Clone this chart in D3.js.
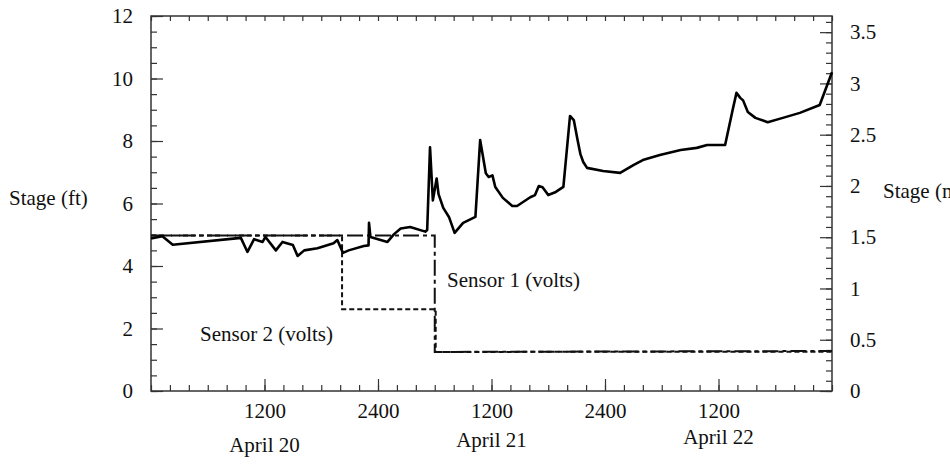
<!DOCTYPE html>
<html>
<head>
<meta charset="utf-8">
<script src="https://cdn.jsdelivr.net/npm/d3@7"></script>
<style>
  body { margin: 0; background: #fff; }
  svg { display: block; }
  text { font-family: "Liberation Serif", "Times New Roman", serif; fill: #111; }
</style>
</head>
<body>
<div id="chart"></div>
<script>
// stage record, [hours since 0000 April 20, stage in ft]
const stage = [
    [0, 4.88], [1.2, 4.95], [2.3, 4.68], [9.5, 4.9], [10.2, 4.45], [10.9, 4.86],
    [11.8, 4.77], [12.1, 4.93], [13.2, 4.5], [13.9, 4.77], [15.0, 4.67], [15.5, 4.32],
    [16.2, 4.5], [17.6, 4.57], [19.3, 4.73], [19.7, 4.83], [20.3, 4.42], [20.9, 4.5],
    [22.5, 4.64], [23.0, 4.66], [23.05, 5.38], [23.2, 4.93], [25.0, 4.77], [25.7, 5.02],
    [26.4, 5.2], [27.4, 5.25], [29.0, 5.1], [29.2, 5.15], [29.5, 7.8], [29.8, 6.1],
    [30.2, 6.8], [30.4, 6.3], [30.9, 5.86], [31.5, 5.57], [32.1, 5.06], [33.0, 5.38],
    [34.3, 5.57], [34.8, 8.03], [35.4, 6.97], [35.7, 6.85], [36.1, 6.9], [36.4, 6.53],
    [37.2, 6.18], [38.2, 5.92], [38.7, 5.92], [40.1, 6.2], [40.6, 6.27], [41.0, 6.56],
    [41.4, 6.52], [42.0, 6.27], [42.8, 6.37], [43.6, 6.53], [44.3, 8.8], [44.7, 8.67],
    [45.1, 8.03], [45.4, 7.58], [45.7, 7.33], [46.1, 7.14], [47.8, 7.04], [49.6, 6.98],
    [51.0, 7.23], [52.0, 7.39], [53.8, 7.55], [56.0, 7.71], [57.7, 7.78], [58.8, 7.87],
    [60.7, 7.87], [61.5, 9.0], [61.9, 9.54], [62.3, 9.38], [62.6, 9.3], [63.1, 8.93],
    [63.9, 8.74], [65.2, 8.6], [66.8, 8.74], [68.6, 8.9], [70.7, 9.15], [72, 10.2]
];

// sensor outputs (volts), plotted on the left scale
const sensor1 = [[0, 4.98], [30.0, 4.98], [30.0, 1.25], [72, 1.28]];
const sensor2 = [[0, 4.98], [20.2, 4.98], [20.2, 2.62], [30.1, 2.62], [30.1, 1.25], [72, 1.26]];

const hourTicks = [12, 24, 36, 48, 60];
const hourLabels = ['1200', '2400', '1200', '2400', '1200'];
const dayHours = [12, 36, 60];
const dayLabels = ['April 20', 'April 21', 'April 22'];

const width = 950, height = 466;
const margin = { top: 16, right: 118, bottom: 75, left: 151 };

const svg = d3.select('#chart')
    .append('svg')
    .attr('width', width)
    .attr('height', height);

const x = d3.scaleLinear().domain([0, 72]).range([margin.left, width - margin.right]);
const y = d3.scaleLinear().domain([0, 12]).range([height - margin.bottom, margin.top]);
const yM = d3.scaleLinear().domain([0, 12 * 0.3048]).range([height - margin.bottom, margin.top]);

const x0 = x.range()[0], x1 = x.range()[1];
const y0 = y.range()[0], y1 = y.range()[1];

function styleAxis(g) {
    g.select('.domain').remove();
    g.selectAll('line').attr('stroke', '#333').attr('stroke-width', 1.2);
    g.selectAll('text').attr('font-size', '21px').attr('fill', '#111');
}

// left axis, ft
svg.append('g')
    .attr('transform', `translate(${x0},0)`)
    .call(d3.axisLeft(y).tickValues(d3.range(0, 12.01, 0.5)).tickFormat('').tickSizeInner(-6).tickSizeOuter(0))
    .call(styleAxis);
svg.append('g')
    .attr('transform', `translate(${x0},0)`)
    .call(d3.axisLeft(y).tickValues(d3.range(0, 12.01, 2)).tickSizeInner(-12).tickSizeOuter(0).tickPadding(18))
    .call(styleAxis);

// right axis, m
svg.append('g')
    .attr('transform', `translate(${x1},0)`)
    .call(d3.axisRight(yM).tickValues(d3.range(0, 3.65, 0.1)).tickFormat('').tickSizeInner(-6).tickSizeOuter(0))
    .call(styleAxis);
svg.append('g')
    .attr('transform', `translate(${x1},0)`)
    .call(d3.axisRight(yM).tickValues(d3.range(0, 3.51, 0.5)).tickFormat(d3.format('~g')).tickSizeInner(-12).tickSizeOuter(0).tickPadding(18))
    .call(styleAxis);

// bottom axis, hours
svg.append('g')
    .attr('transform', `translate(0,${y0})`)
    .call(d3.axisBottom(x).tickValues(d3.range(0, 72.01, 2)).tickFormat('').tickSizeInner(-6).tickSizeOuter(0))
    .call(styleAxis);
svg.append('g')
    .attr('transform', `translate(0,${y0})`)
    .call(d3.axisBottom(x).tickValues(hourTicks).tickFormat((d, i) => hourLabels[i]).tickSizeInner(-12).tickSizeOuter(0).tickPadding(12))
    .call(styleAxis);

// top ticks
svg.append('g')
    .attr('transform', `translate(0,${y1})`)
    .call(d3.axisTop(x).tickValues(d3.range(0, 72.01, 2)).tickFormat('').tickSizeInner(-5).tickSizeOuter(0))
    .call(styleAxis);

// frame
svg.append('rect')
    .attr('x', x0).attr('y', y1)
    .attr('width', x1 - x0).attr('height', y0 - y1)
    .attr('fill', 'none')
    .attr('stroke', '#333')
    .attr('stroke-width', 1.5);

// day labels
const dayY = [452, 447, 444];
svg.append('g')
    .selectAll('text')
    .data(dayHours)
    .enter()
    .append('text')
    .attr('x', d => x(d))
    .attr('y', (d, i) => dayY[i])
    .attr('text-anchor', 'middle')
    .attr('font-size', '21px')
    .text((d, i) => dayLabels[i]);

// axis titles
svg.append('text')
    .attr('x', 9).attr('y', 205)
    .attr('font-size', '21px')
    .text('Stage (ft)');
svg.append('text')
    .attr('x', 883).attr('y', 198)
    .attr('font-size', '21px')
    .text('Stage (m)');

const line = d3.line()
    .x(d => x(d[0]))
    .y(d => y(d[1]));

svg.append('path')
    .datum(sensor2)
    .attr('d', line)
    .attr('fill', 'none')
    .attr('stroke', '#111')
    .attr('stroke-width', 2)
    .attr('stroke-dasharray', '5,3');

svg.append('path')
    .datum(sensor1)
    .attr('d', line)
    .attr('fill', 'none')
    .attr('stroke', '#111')
    .attr('stroke-width', 2)
    .attr('stroke-dasharray', '16,4,4,4');

svg.append('path')
    .datum(stage)
    .attr('d', line)
    .attr('fill', 'none')
    .attr('stroke', '#000')
    .attr('stroke-width', 2.6)
    .attr('stroke-linejoin', 'round');

// series labels
svg.append('text')
    .attr('x', 447).attr('y', 287)
    .attr('font-size', '21px')
    .text('Sensor 1 (volts)');
svg.append('text')
    .attr('x', 200).attr('y', 341)
    .attr('font-size', '21px')
    .text('Sensor 2 (volts)');
</script>
</body>
</html>
